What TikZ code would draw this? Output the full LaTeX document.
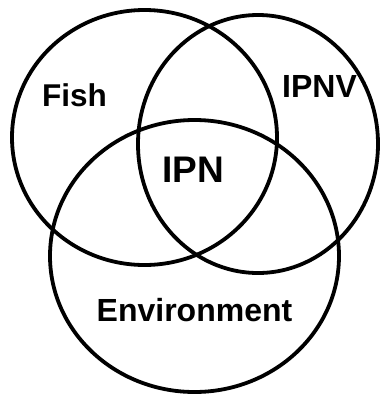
\documentclass[tikz,border=0pt]{standalone}
\usepackage{fontspec}
\setmainfont{Liberation Sans}
\begin{document}
\begin{tikzpicture}[x=1pt, y=-1pt, venn/.style = {draw, line width=3.8pt},
                    lbl/.style = {inner sep=0pt, font=\bfseries}]
        \useasboundingbox (0,0) rectangle (382,397);
        \draw[venn] (144.5,137.5) ellipse [x radius=132.5, y radius=127.5];
        \draw[venn] (258,144) ellipse [x radius=120, y radius=129];
        \draw[venn] (194.5,256) ellipse [x radius=144.5, y radius=136];
        \node[lbl, font=\bfseries\fontsize{31.5}{31.5}\selectfont] (fish) at (74.5,95.5) {Fish};
        \node[lbl, font=\bfseries\fontsize{32}{32}\selectfont] (ipnv) at (319.5,86.5) {IPNV};
        \node[lbl, font=\bfseries\fontsize{37}{37}\selectfont] (ipn) at (193,170) {IPN};
        \node[lbl, font=\bfseries\fontsize{32}{32}\selectfont] (env) at (194.5,310) {Environment};
    \end{tikzpicture}
\end{document}
